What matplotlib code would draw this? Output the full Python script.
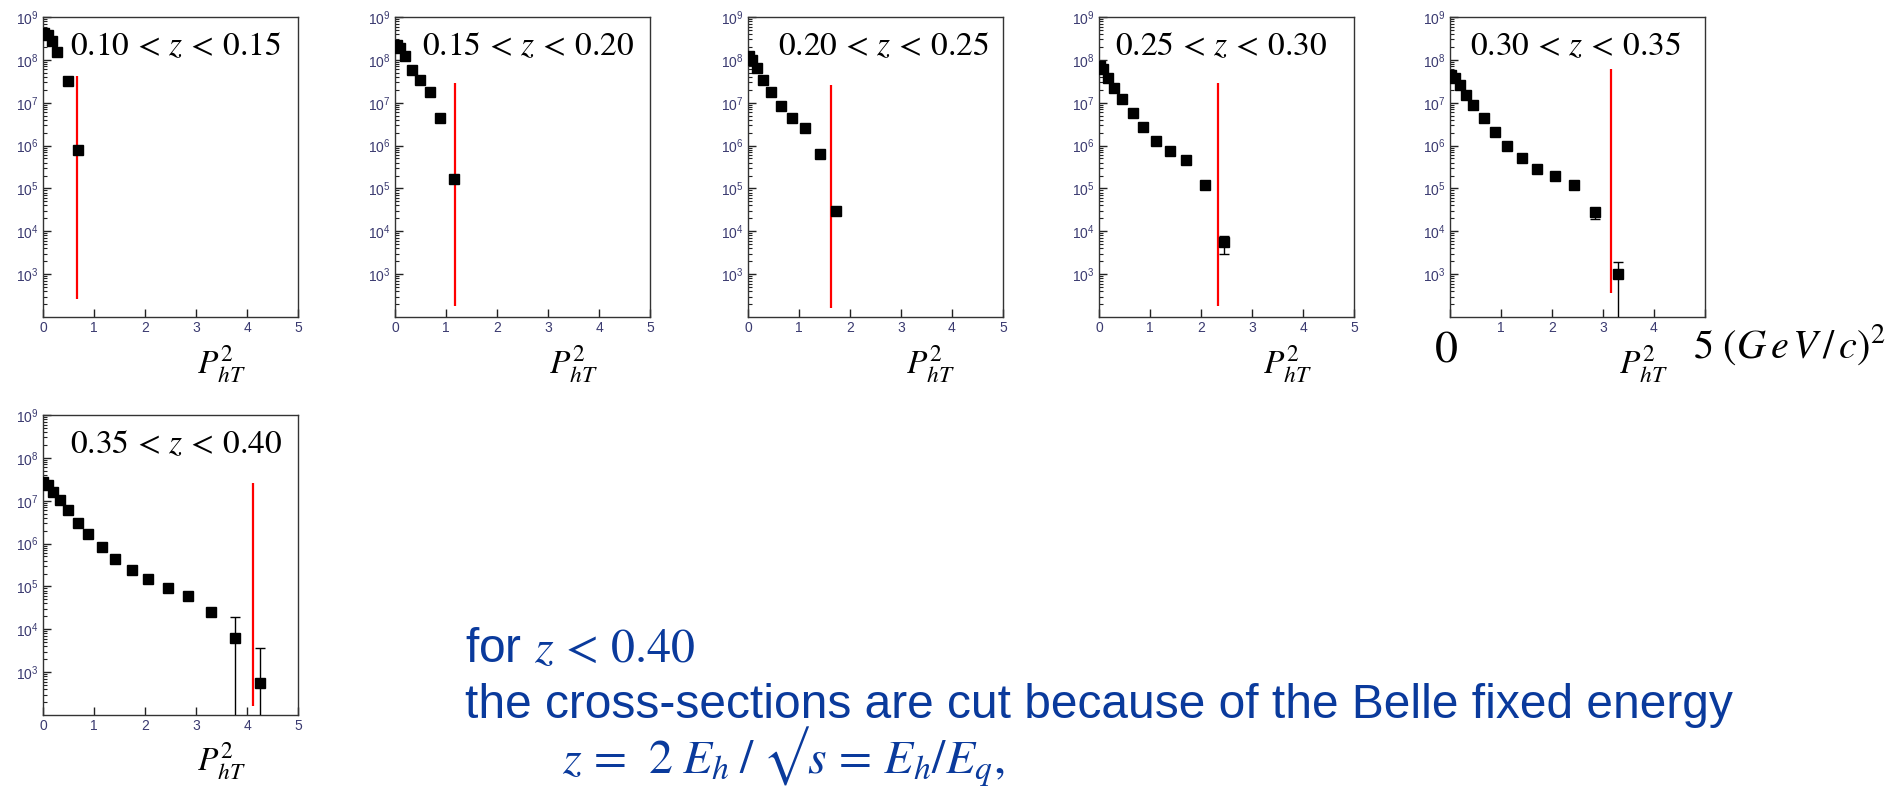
import numpy as np
import matplotlib
matplotlib.use("Agg")
import matplotlib.pyplot as plt
from matplotlib.ticker import FixedLocator, LogLocator, NullFormatter

plt.rcParams['font.family'] = ['Liberation Sans', 'DejaVu Sans']
plt.rcParams['mathtext.fontset'] = 'stix'

# z bins and the P_hT^2 cut for each
z_labels = [r"$0.10\,<\,z\,<\,0.15$", r"$0.15\,<\,z\,<\,0.20$", r"$0.20\,<\,z\,<\,0.25$",
            r"$0.25\,<\,z\,<\,0.30$", r"$0.30\,<\,z\,<\,0.35$", r"$0.35\,<\,z\,<\,0.40$"]
cut_x = [0.66, 1.17, 1.62, 2.335, 3.16, 4.11]
cut_top = [4.2e7, 2.9e7, 2.6e7, 2.9e7, 6.0e7, 2.6e7]
cut_bottom = [260, 180, 160, 180, 370, 160]

# cross-section points per z bin
x1 = [0.02, 0.09, 0.18, 0.27, 0.49, 0.69]
y1 = [4.3e8, 3.9e8, 2.7e8, 1.5e8, 3.2e7, 8.0e5]
x2 = [0.03, 0.10, 0.20, 0.33, 0.49, 0.68, 0.89, 1.15]
y2 = [2.2e8, 1.9e8, 1.2e8, 5.9e7, 3.4e7, 1.8e7, 4.4e6, 1.7e5]
x3 = [0.02, 0.08, 0.17, 0.30, 0.46, 0.64, 0.86, 1.12, 1.41, 1.73]
y3 = [1.2e8, 1.0e8, 6.5e7, 3.4e7, 1.8e7, 8.5e6, 4.4e6, 2.6e6, 6.3e5, 2.9e4]
x4 = [0.02, 0.08, 0.18, 0.29, 0.46, 0.66, 0.87, 1.12, 1.40, 1.70, 2.07, 2.45]
y4 = [7.0e7, 6.0e7, 3.8e7, 2.2e7, 1.2e7, 5.8e6, 2.7e6, 1.25e6, 7.4e5, 4.6e5, 1.2e5, 5.5e3]
x5 = [0.02, 0.10, 0.20, 0.31, 0.46, 0.66, 0.89, 1.12, 1.41, 1.71, 2.06, 2.43, 2.84, 3.29]
y5 = [4.4e7, 3.7e7, 2.6e7, 1.5e7, 8.7e6, 4.4e6, 2.1e6, 1.0e6, 5.1e5, 2.9e5, 2.0e5, 1.2e5, 2.8e4, 1.0e3]
x6 = [0.0, 0.09, 0.20, 0.33, 0.49, 0.69, 0.88, 1.15, 1.41, 1.74, 2.06, 2.46, 2.85, 3.29, 3.77, 4.25]
y6 = [2.8e7, 2.3e7, 1.6e7, 1.05e7, 6.0e6, 3.1e6, 1.65e6, 8.5e5, 4.3e5, 2.4e5, 1.5e5, 9.3e4, 6.0e4, 2.6e4, 6.2e3, 550]
xs = [x1, x2, x3, x4, x5, x6]
ys = [y1, y2, y3, y4, y5, y6]

# visible error bars (panel index, x, y, lower end, upper end)
err_panel = [3, 4, 4, 5, 5]
err_x = [2.45, 2.84, 3.29, 3.77, 4.25]
err_y = [5.5e3, 2.8e4, 1.0e3, 6.2e3, 550]
err_lo = [2.9e3, 1.9e4, 1, 1, 1]
err_hi = [7.6e3, 3.2e4, 1.9e3, 1.9e4, 3.6e3]

W, H = 1893, 790
fig = plt.figure(figsize=(W / 100, H / 100), dpi=100)

lefts = [43, 395, 748, 1099, 1450, 43]
tops = [17, 17, 17, 17, 17, 415]
label_fx = [0.52, 0.52, 0.53, 0.48, 0.49, 0.52]
xlab_x = [221, 573, 930, 1287, 1643, 221]
xlab_y = [373, 373, 373, 373, 373, 770]
tick_col = '#3a3a70'

for i in range(6):
    ax = fig.add_axes([lefts[i] / W, 1 - (tops[i] + 300) / H, 255 / W, 300 / H])
    ax.set_yscale('log')
    ax.set_xlim(0, 5)
    ax.set_ylim(1e2, 1e9)
    ax.yaxis.set_major_locator(FixedLocator([1e3, 1e4, 1e5, 1e6, 1e7, 1e8, 1e9]))
    ax.yaxis.set_minor_locator(LogLocator(base=10, subs=np.arange(2, 10)))
    ax.yaxis.set_minor_formatter(NullFormatter())
    ax.set_xticks([0, 1, 2, 3, 4, 5])
    if i == 4:
        ax.set_xticklabels(['', '1', '2', '3', '4', ''])
    ax.tick_params(which='both', direction='in', top=False, right=False,
                   labelsize=10, labelcolor=tick_col, color='#222222')
    ax.tick_params(which='major', length=6, width=1)
    ax.tick_params(which='minor', length=3, width=0.8)
    ax.tick_params(axis='x', pad=3)
    for s in ax.spines.values():
        s.set_color('#333333')
        s.set_linewidth(1.0)

    ax.vlines(cut_x[i], cut_bottom[i], cut_top[i], color='red', lw=1.6, zorder=2)
    ax.plot(xs[i], ys[i], 's', color='black', ms=7.5, zorder=3)
    for k in range(len(err_panel)):
        if err_panel[k] == i:
            ax.errorbar([err_x[k]], [err_y[k]],
                        yerr=[[err_y[k] - err_lo[k]], [err_hi[k] - err_y[k]]],
                        fmt='none', ecolor='black', elinewidth=1, capsize=3.5, zorder=3)

    ax.text(label_fx[i], 0.90, z_labels[i], transform=ax.transAxes,
            ha='center', va='center', fontsize=24)
    fig.text(xlab_x[i] / W, 1 - xlab_y[i] / H, r"$P_{hT}^{2}$",
             ha='center', va='baseline', fontsize=24)

# extra axis annotations of the fifth panel
fig.text(1446 / W, 1 - 362 / H, r"$\mathrm{0}$", ha='center', va='baseline', fontsize=33)
fig.text(1693 / W, 1 - 358 / H, r"$\mathrm{5}\ (G\,e\,V\,/\,c)^{2}$", ha='left', va='baseline', fontsize=29)

txt_col = '#0a3a9c'
fig.text(465 / W, 1 - 662 / H, r"for $z\,<\,0.40$", color=txt_col, fontsize=34.5, va='baseline')
fig.text(465 / W, 1 - 718 / H, "the cross-sections are cut because of the Belle fixed energy",
         color=txt_col, fontsize=34.5, va='baseline')
fig.text(562 / W, 1 - 774 / H, "$z\\,=\\;\\,2\\;E_h\\;/\\;\u221as\\,=\\,E_h/E_q,$",
         color=txt_col, fontsize=34.5, va='baseline')

fig.savefig('out.png', dpi=100)
